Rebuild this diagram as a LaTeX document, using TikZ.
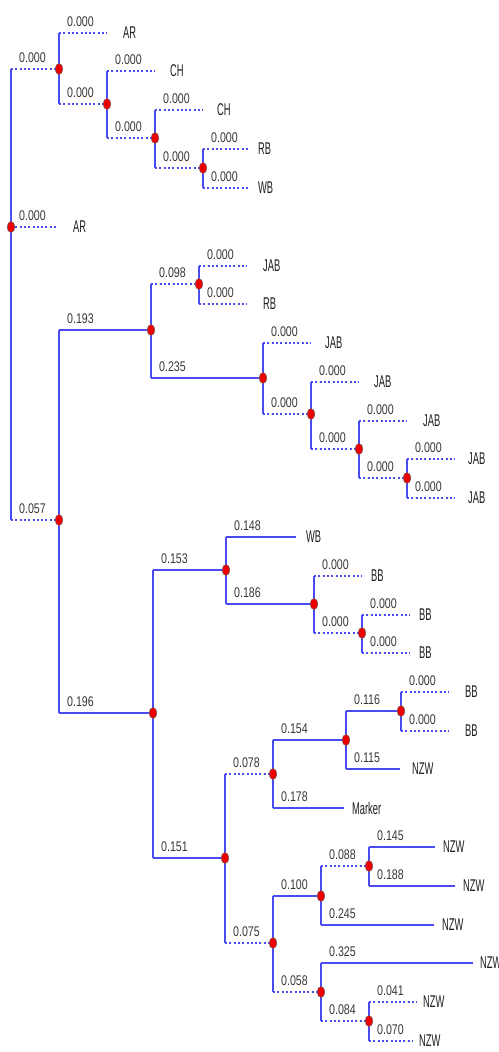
\documentclass[tikz,border=0pt]{standalone}
\usepackage{fontspec}
\setmainfont{Liberation Sans}
\usepackage{tikz}
\usetikzlibrary{positioning, calc}
\definecolor{trblue}{HTML}{4B4BF4}
\definecolor{trred}{HTML}{EE0000}
\definecolor{trtext}{HTML}{383838}
\definecolor{trleaf}{HTML}{1E1E1E}
\tikzset{
  stem/.style={draw=trblue, line width=1.5pt},
  solidbr/.style={draw=trblue, line width=2pt},
  dotbr/.style={draw=trblue, line width=1.5pt, dash pattern=on 2pt off 2.3pt},
  dot/.style={circle, fill=trred, draw=black!60, line width=0.5pt, inner sep=0pt,
              minimum size=11pt, xscale=0.7},
  len/.style={text=trtext, inner sep=0pt, anchor=base west, xscale=0.76,
              font=\fontsize{14pt}{16pt}\selectfont},
  taxa/.style={text=trleaf, inner sep=0pt, xscale=0.55,
               font=\fontsize{17pt}{19pt}\selectfont}
}
% parent, child, branch style, branch length
\newcommand{\clade}[4]{%
  \draw[stem] (#1) -- (#1 |- #2);
  \draw[#3] (#1 |- #2) -- (#2);
  \node[len] (l#2) at ($(#1 |- #2)+(8pt,7pt)$) {#4};
}
% parent, leaf, x, y, branch style, branch length, gap, name
\newcommand{\taxon}[8]{%
  \coordinate (#2) at (#3,#4);
  \clade{#1}{#2}{#5}{#6}
  \node[taxa, right=#7pt of #2] (t#2) {#8};
}

\begin{document}
\begin{tikzpicture}[x=1pt, y=-1pt]
  \useasboundingbox (0,0) rectangle (498,1052);
  % inner nodes
  \coordinate (root) at (11,227);
  \coordinate (nA) at (59,69);
  \coordinate (nB) at (107,104);
  \coordinate (nC) at (155,138);
  \coordinate (nD) at (203,168);
  \coordinate (nE) at (59,520);
  \coordinate (nF) at (151,330);
  \coordinate (nG) at (199,284);
  \coordinate (nH) at (263,378);
  \coordinate (nI) at (311,414);
  \coordinate (nJ) at (359,449);
  \coordinate (nK) at (407,478);
  \coordinate (nL) at (153,713);
  \coordinate (nM) at (226,570);
  \coordinate (nN) at (314,604);
  \coordinate (nO) at (362,633);
  \coordinate (nP) at (225,858);
  \coordinate (nQ) at (273,774);
  \coordinate (nR) at (346,740);
  \coordinate (nS) at (401,711);
  \coordinate (nT) at (273,943);
  \coordinate (nU) at (321,896);
  \coordinate (nV) at (369,866);
  \coordinate (nW) at (321,992);
  \coordinate (nX) at (369,1021);

  % top clade
  \clade{root}{nA}{dotbr}{0.000}
  \taxon{root}{a0}{58}{227}{dotbr}{0.000}{15}{AR}
  \clade{root}{nE}{dotbr}{0.057}
  \taxon{nA}{a1}{107}{33}{dotbr}{0.000}{16}{AR}
  \clade{nA}{nB}{dotbr}{0.000}
  \taxon{nB}{a2}{155}{71}{dotbr}{0.000}{15}{CH}
  \clade{nB}{nC}{dotbr}{0.000}
  \taxon{nC}{a3}{203}{110}{dotbr}{0.000}{14}{CH}
  \clade{nC}{nD}{dotbr}{0.000}
  \taxon{nD}{a4}{250}{149}{dotbr}{0.000}{8}{RB}
  \taxon{nD}{a5}{250}{188}{dotbr}{0.000}{8}{WB}

  % JAB clade
  \clade{nE}{nF}{solidbr}{0.193}
  \clade{nE}{nL}{solidbr}{0.196}
  \clade{nF}{nG}{dotbr}{0.098}
  \clade{nF}{nH}{solidbr}{0.235}
  \taxon{nG}{a6}{247}{266}{dotbr}{0.000}{16}{JAB}
  \taxon{nG}{a7}{247}{304}{dotbr}{0.000}{16}{RB}
  \taxon{nH}{a8}{311}{343}{dotbr}{0.000}{14}{JAB}
  \clade{nH}{nI}{dotbr}{0.000}
  \taxon{nI}{a9}{359}{382}{dotbr}{0.000}{15}{JAB}
  \clade{nI}{nJ}{dotbr}{0.000}
  \taxon{nJ}{a10}{407}{421}{dotbr}{0.000}{16}{JAB}
  \clade{nJ}{nK}{dotbr}{0.000}
  \taxon{nK}{a11}{455}{459}{dotbr}{0.000}{13}{JAB}
  \taxon{nK}{a12}{455}{498}{dotbr}{0.000}{13}{JAB}

  % WB / BB clade
  \clade{nL}{nM}{solidbr}{0.153}
  \clade{nL}{nP}{solidbr}{0.151}
  \taxon{nM}{a13}{296}{537}{solidbr}{0.148}{10}{WB}
  \clade{nM}{nN}{solidbr}{0.186}
  \taxon{nN}{a14}{362}{576}{dotbr}{0.000}{9}{BB}
  \clade{nN}{nO}{dotbr}{0.000}
  \taxon{nO}{a15}{410}{615}{dotbr}{0.000}{9}{BB}
  \taxon{nO}{a16}{410}{653}{dotbr}{0.000}{9}{BB}

  % NZW clade
  \clade{nP}{nQ}{dotbr}{0.078}
  \clade{nP}{nT}{dotbr}{0.075}
  \clade{nQ}{nR}{solidbr}{0.154}
  \taxon{nQ}{a17}{344}{808}{solidbr}{0.178}{8}{Marker}
  \clade{nR}{nS}{solidbr}{0.116}
  \taxon{nR}{a18}{400}{769}{solidbr}{0.115}{12}{NZW}
  \taxon{nS}{a19}{449}{692}{dotbr}{0.000}{16}{BB}
  \taxon{nS}{a20}{449}{731}{dotbr}{0.000}{16}{BB}
  \clade{nT}{nU}{solidbr}{0.100}
  \clade{nT}{nW}{dotbr}{0.058}
  \clade{nU}{nV}{dotbr}{0.088}
  \taxon{nU}{a21}{434}{925}{solidbr}{0.245}{8}{NZW}
  \taxon{nV}{a22}{435}{847}{solidbr}{0.145}{8}{NZW}
  \taxon{nV}{a23}{455}{886}{solidbr}{0.188}{8}{NZW}
  \taxon{nW}{a24}{473}{963}{solidbr}{0.325}{7}{NZW}
  \clade{nW}{nX}{dotbr}{0.084}
  \taxon{nX}{a25}{417}{1002}{dotbr}{0.041}{6}{NZW}
  \taxon{nX}{a26}{413}{1041}{dotbr}{0.070}{6}{NZW}

  % node markers on top
  \foreach \n in {root,nA,nB,nC,nD,nE,nF,nG,nH,nI,nJ,nK,nL,nM,nN,nO,nP,nQ,nR,nS,nT,nU,nV,nW,nX}
    \node[dot] (d\n) at (\n) {};
\end{tikzpicture}
\end{document}
